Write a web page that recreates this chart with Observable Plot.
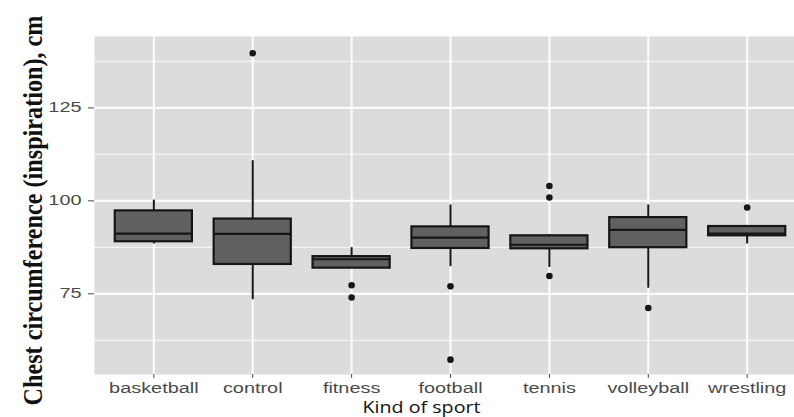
<!DOCTYPE html>
<html>
<head>
<meta charset="utf-8">
<script src="https://cdn.jsdelivr.net/npm/d3@7"></script>
<script src="https://cdn.jsdelivr.net/npm/@observablehq/plot@0.6"></script>
<style>
  html, body { margin: 0; padding: 0; background: #ffffff; overflow: hidden; width: 794px; height: 417px; }
  #chart { width: 794px; height: 417px; overflow: hidden; }
  #chart svg { max-width: none !important; }
</style>
</head>
<body>
<div id="chart"></div>
<script>
// ---- data ----
const sports = ["basketball", "control", "fitness", "football", "tennis", "volleyball", "wrestling"];
const whiskerLow  = [88.4, 73.4, 81.9, 82.3, 82.1, 76.5, 88.4];
const q1          = [89.0, 82.9, 81.9, 87.2, 87.1, 87.4, 90.6];
const median      = [91.2, 91.1, 84.3, 90.1, 88.2, 92.2, 91.2];
const q3          = [97.3, 95.1, 85.0, 93.0, 90.6, 95.5, 93.1];
const whiskerHigh = [100.2, 110.8, 87.4, 98.9, 90.9, 98.9, 93.1];
const outlierSport = ["control", "fitness", "fitness", "football", "football", "tennis", "tennis", "tennis", "volleyball", "wrestling"];
const outlierValue = [139.7, 77.3, 74.0, 77.0, 57.3, 104.0, 100.9, 79.8, 71.2, 98.2];
const yTicks = [75, 100, 125];
const yMinor = [62.5, 87.5, 112.5, 137.5];
const xTitle = "Kind of sport";
const yTitle = "Chest circumference (inspiration), cm";

const boxes = sports.map((s, i) => ({sport: s, lo: whiskerLow[i], q1: q1[i], med: median[i], q3: q3[i], hi: whiskerHigh[i]}));
const outliers = outlierSport.map((s, i) => ({sport: s, value: outlierValue[i]}));

const ink = "#161616";
const chart = Plot.plot({
  width: 810,
  height: 417,
  marginLeft: 94,
  marginRight: 4,
  marginTop: 36,
  marginBottom: 43,
  style: {fontFamily: "'Liberation Sans', Arial, sans-serif", background: "transparent", maxWidth: "none"},
  x: {type: "band", domain: sports, paddingInner: 0.22, paddingOuter: 0.21, round: false},
  y: {domain: [53.3, 144.2]},
  marks: [
    Plot.frame({fill: "#dcdcdd", stroke: null}),
    Plot.ruleY(yMinor, {stroke: "#f4f4f4", strokeWidth: 1.2}),
    Plot.ruleY(yTicks, {stroke: "#fbfbfb", strokeWidth: 2.2}),
    Plot.ruleX(sports, {stroke: "#fbfbfb", strokeWidth: 2.2}),
    Plot.ruleX(boxes, {x: "sport", y1: "lo", y2: "hi", stroke: ink, strokeWidth: 2}),
    Plot.barY(boxes, {x: "sport", y1: "q1", y2: "q3", fill: "#616161", stroke: ink, strokeWidth: 2.2}),
    Plot.tickY(boxes, {x: "sport", y: "med", stroke: ink, strokeWidth: 2.2}),
    Plot.dot(outliers, {x: "sport", y: "value", r: 3.3, fill: ink, stroke: null}),
    Plot.axisY({ticks: yTicks, tickSize: 6, tickPadding: 7, fontSize: 14, color: "#4a4a4a", label: null}),
    Plot.axisX({tickSize: 4, tickPadding: 5, fontSize: 14, color: "#4a4a4a", label: null}),
    Plot.text([xTitle], {frameAnchor: "bottom", dx: -29, dy: 33, lineAnchor: "middle", fontSize: 16.5, fill: "#111", fontFamily: "'Open Sans', 'Noto Sans', sans-serif"}),
    Plot.text([yTitle], {frameAnchor: "left", dx: -61, dy: 5, rotate: -90, textAnchor: "middle", lineAnchor: "middle", fontSize: 27, fontWeight: "bold", fill: "#111", fontFamily: "'Liberation Serif', 'DejaVu Serif', serif"})
  ]
});
document.getElementById("chart").appendChild(chart);
const svg = d3.select(chart);
// the reference's y title is condensed along its length
svg.selectAll("text").filter(function() { return this.textContent === yTitle; })
  .each(function() {
    const w = this.getComputedTextLength();
    const t = this.getAttribute("transform") || "";
    this.setAttribute("transform", t + ` scale(${390 / w},1)`);
  });
svg.selectAll("text").filter(function() { return this.textContent === xTitle; })
  .attr("textLength", 118).attr("lengthAdjust", "spacingAndGlyphs");
// the reference's tick labels are stretched horizontally
svg.selectAll('g[aria-label="x-axis tick label"] text, g[aria-label="y-axis tick label"] text')
  .each(function() {
    const w = this.getComputedTextLength();
    d3.select(this).attr("textLength", w * 1.42).attr("lengthAdjust", "spacingAndGlyphs");
  });
</script>
</body>
</html>
